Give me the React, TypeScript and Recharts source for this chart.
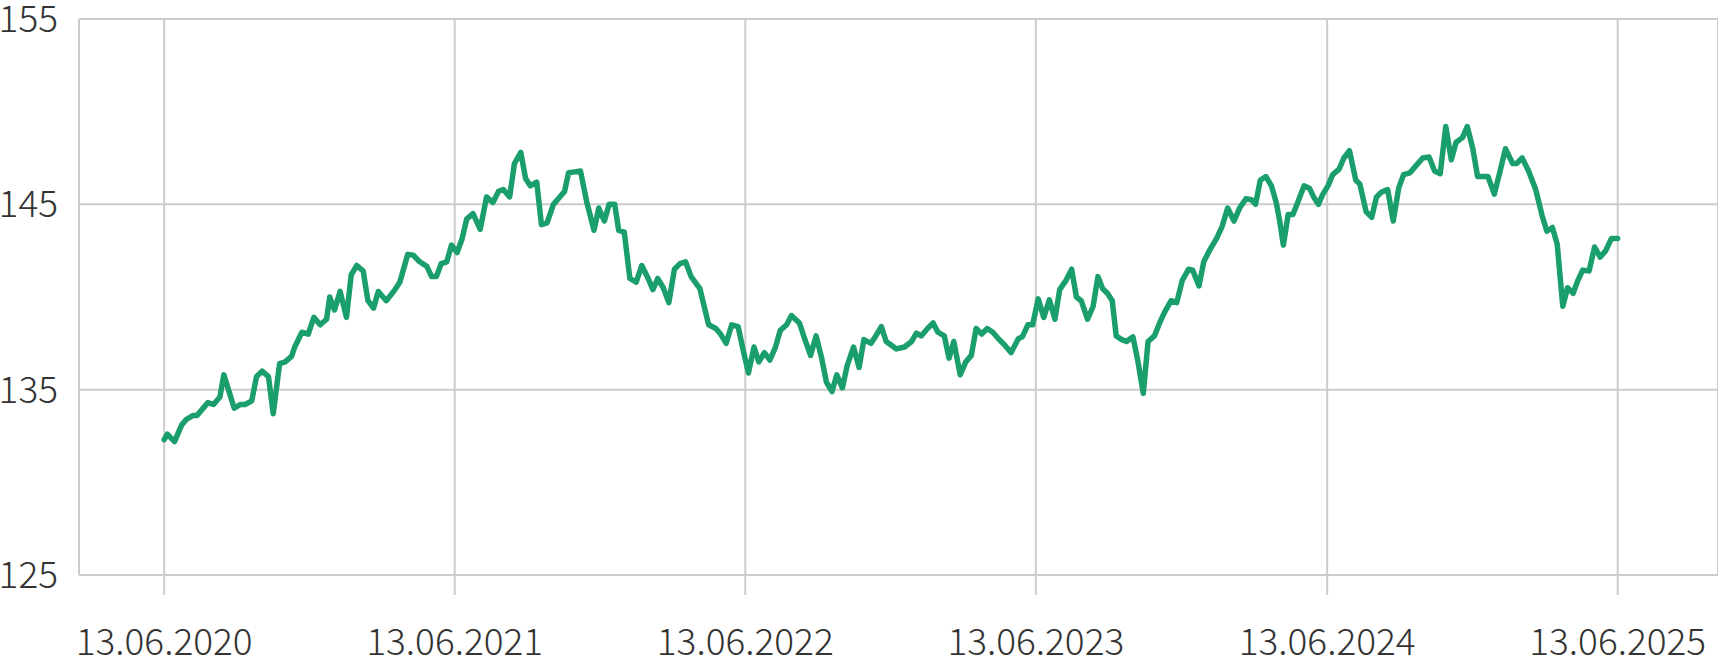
import { LineChart, Line, XAxis, YAxis, CartesianGrid } from "recharts";

// days since 13.06.2020
const days = [
  0, 4, 13, 22, 28, 36, 41, 55, 62, 70, 75, 88, 96, 102, 110, 116, 123, 131, 137, 145,
  152, 160, 164, 173, 181, 188, 196, 204, 208, 214, 221, 229, 235, 242, 250, 256, 263, 269, 279, 290,
  296, 306, 313, 321, 330, 336, 342, 348, 355, 361, 368, 374, 380, 388, 397, 405, 413, 420, 426, 434,
  440, 448, 454, 460, 468, 474, 481, 489, 497, 503, 508, 516, 523, 531, 540, 546, 553, 559, 566, 571,
  578, 585, 593, 600, 608, 614, 620, 627, 634, 641, 648, 655, 662, 673, 684, 693, 699, 706, 713, 721,
  727, 734, 741, 747, 754, 761, 768, 774, 782, 788, 798, 805, 812, 819, 826, 832, 839, 845, 852, 858,
  866, 873, 879, 888, 894, 901, 907, 920, 930, 939, 945, 951, 959, 966, 972, 980, 986, 992, 1000, 1007,
  1014, 1020, 1027, 1034, 1041, 1048, 1056, 1064, 1073, 1078, 1085, 1091, 1098, 1105, 1112, 1119, 1125, 1133, 1140, 1146,
  1152, 1160, 1167, 1173, 1179, 1185, 1191, 1196, 1203, 1209, 1217, 1223, 1230, 1236, 1244, 1251, 1257, 1265, 1272, 1279,
  1287, 1292, 1300, 1306, 1313, 1322, 1329, 1336, 1344, 1351, 1359, 1366, 1371, 1377, 1384, 1391, 1397, 1401, 1406, 1412,
  1418, 1424, 1432, 1439, 1444, 1450, 1455, 1462, 1468, 1476, 1482, 1489, 1497, 1502, 1510, 1517, 1523, 1529, 1537, 1544,
  1551, 1557, 1565, 1573, 1581, 1589, 1596, 1603, 1610, 1617, 1623, 1631, 1637, 1644, 1650, 1663, 1671, 1678, 1685, 1694,
  1699, 1706, 1714, 1723, 1731, 1737, 1744, 1750, 1757, 1763, 1770, 1776, 1782, 1790, 1797, 1804, 1811, 1818, 1826,
];

const prices = [
  132.3, 132.6, 132.2, 133.1, 133.4, 133.6, 133.6, 134.3, 134.2, 134.6, 135.8, 134.0, 134.2, 134.2, 134.4, 135.7, 136.0, 135.7, 133.7, 136.4,
  136.5, 136.8, 137.3, 138.1, 138.0, 138.9, 138.5, 138.8, 140.0, 139.3, 140.3, 138.9, 141.2, 141.7, 141.4, 139.8, 139.4, 140.3, 139.8, 140.4,
  140.8, 142.3, 142.25, 141.9, 141.65, 141.1, 141.1, 141.8, 141.9, 142.8, 142.4, 143.1, 144.2, 144.5, 143.65, 145.4, 145.1, 145.7, 145.8, 145.4,
  147.2, 147.8, 146.4, 146.0, 146.2, 143.9, 144.0, 145.0, 145.4, 145.7, 146.7, 146.75, 146.8, 145.1, 143.6, 144.8, 144.1, 145.0, 145.0, 143.6,
  143.5, 141.0, 140.8, 141.7, 141.0, 140.4, 141.0, 140.5, 139.7, 141.5, 141.8, 141.9, 141.1, 140.45, 138.5, 138.3, 138.0, 137.5, 138.5, 138.4,
  137.2, 135.9, 137.3, 136.5, 137.0, 136.6, 137.3, 138.2, 138.5, 139.0, 138.6, 137.7, 136.85, 137.9, 136.7, 135.4, 134.9, 135.8, 135.1, 136.3,
  137.3, 136.2, 137.7, 137.5, 137.9, 138.4, 137.6, 137.2, 137.3, 137.6, 138.05, 137.9, 138.3, 138.6, 138.1, 137.9, 136.7, 137.6, 135.8, 136.5,
  136.85, 138.3, 138.0, 138.3, 138.1, 137.75, 137.4, 137.0, 137.75, 137.85, 138.5, 138.5, 139.9, 138.9, 139.85, 138.8, 140.4, 140.9, 141.5, 140.0,
  139.8, 138.8, 139.5, 141.1, 140.45, 140.2, 139.8, 137.9, 137.7, 137.6, 137.85, 136.6, 134.8, 137.6, 137.9, 138.65, 139.2, 139.8, 139.7, 140.9,
  141.5, 141.45, 140.6, 141.9, 142.5, 143.15, 143.8, 144.8, 144.1, 144.8, 145.3, 145.25, 145.0, 146.3, 146.5, 146.0, 145.1, 144.2, 142.8, 144.45,
  144.45, 145.1, 146.0, 145.85, 145.4, 145.0, 145.5, 146.0, 146.6, 146.9, 147.5, 147.9, 146.3, 146.1, 144.6, 144.3, 145.4, 145.65, 145.8, 144.1,
  145.9, 146.6, 146.7, 147.1, 147.5, 147.55, 146.8, 146.65, 149.2, 147.4, 148.35, 148.6, 149.2, 148.0, 146.5, 146.5, 145.55, 146.75, 148.0, 147.2,
  147.2, 147.5, 146.8, 145.8, 144.4, 143.55, 143.75, 142.85, 139.5, 140.5, 140.2, 140.9, 141.45, 141.4, 142.7, 142.15, 142.5, 143.15, 143.15,
];

const tickDays = [0, 365, 730, 1095, 1461, 1826];
const tickLabels = ["13.06.2020", "13.06.2021", "13.06.2022", "13.06.2023", "13.06.2024", "13.06.2025"];
const yTicks = [125, 135, 145, 155];

const data = days.map((d, i) => ({ day: d, price: prices[i] }));

const font = { fontFamily: "'Noto Sans CJK SC', 'Noto Sans', sans-serif", fontSize: 37, fontWeight: 300, fill: "#333" };

export default function App() {
  return (
    <div style={{ position: "absolute", left: 0, top: 0 }}>
      <LineChart width={1718} height={658} data={data} margin={{ top: 19, right: 0, left: 0, bottom: 0 }}>
        <CartesianGrid stroke="#cccccc" strokeWidth={2} />
        <XAxis
          dataKey="day"
          type="number"
          domain={[-107, 1952]}
          ticks={tickDays}
          tickFormatter={(v: number) => tickLabels[tickDays.indexOf(v)] ?? ""}
          axisLine={false}
          tickLine={{ stroke: "#cccccc", strokeWidth: 2 }}
          tickSize={20}
          tickMargin={34}
          height={83}
          tick={font}
          interval={0}
        />
        <YAxis
          type="number"
          domain={[125, 155]}
          ticks={yTicks}
          axisLine={false}
          tickLine={false}
          tickSize={0}
          tickMargin={21}
          width={79}
          tick={font}
          interval={0}
        />
        <Line
          type="linear"
          dataKey="price"
          stroke="#1a9e6b"
          strokeWidth={5.5}
          strokeLinejoin="round"
          strokeLinecap="round"
          dot={false}
          activeDot={false}
          isAnimationActive={false}
        />
      </LineChart>
    </div>
  );
}
